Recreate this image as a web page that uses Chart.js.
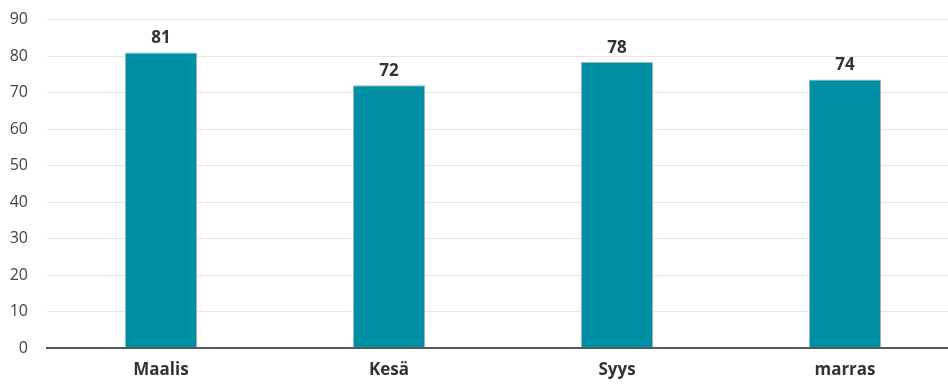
<!DOCTYPE html>
<html>
<head>
<meta charset="utf-8">
<script src="https://cdn.jsdelivr.net/npm/chart.js@4"></script>
<style>
  html, body { margin: 0; padding: 0; background: #fff; overflow: hidden; }
  #outer { width: 948px; height: 385px; overflow: hidden; position: relative; }
  #wrap { position: absolute; left: 0; top: -9px; width: 959px; height: 394px; }
</style>
</head>
<body>
<div id="outer"><div id="wrap"><canvas id="chart"></canvas></div></div>
<script>
// Chart data
const categories = ['Maalis', 'Kesä', 'Syys', 'marras'];
const values = [81, 72, 78.4, 73.6];
const yTicks = [0, 10, 20, 30, 40, 50, 60, 70, 80, 90];

const fontFamily = '"Open Sans", "Noto Sans", sans-serif';

// Draw value labels above bars
const valueLabels = {
    id: 'valueLabels',
    afterDatasetsDraw(chart) {
        const ctx = chart.ctx;
        const meta = chart.getDatasetMeta(0);
        ctx.save();
        ctx.font = 'bold 17px ' + fontFamily;
        ctx.fillStyle = '#333';
        ctx.textAlign = 'center';
        ctx.textBaseline = 'alphabetic';
        meta.data.forEach((bar, i) => {
            ctx.fillText(Math.round(values[i]), bar.x, bar.y - 9);
        });
        ctx.restore();
    }
};

const ctx = document.getElementById('chart').getContext('2d');
new Chart(ctx, {
    type: 'bar',
    data: {
        labels: categories,
        datasets: [{
            data: values,
            backgroundColor: '#0090a6',
            borderColor: '#9fb8bd',
            borderWidth: 1,
            barPercentage: 0.632,
            categoryPercentage: 0.5
        }]
    },
    options: {
        responsive: true,
        maintainAspectRatio: false,
        animation: false,
        layout: { padding: { top: 2, right: 0, left: 0, bottom: 0 } },
        plugins: {
            legend: { display: false },
            tooltip: { enabled: false }
        },
        scales: {
            x: {
                afterFit(axis) { axis.height = 37; },
                grid: { display: false, drawTicks: false },
                border: { color: '#555', width: 2 },
                ticks: {
                    color: '#333',
                    padding: 12,
                    font: { family: fontFamily, size: 17, weight: 'bold' }
                }
            },
            y: {
                min: 0,
                max: 90,
                afterBuildTicks(axis) {
                    axis.ticks = yTicks.map(v => ({ value: v }));
                },
                afterFit(axis) { axis.width = 47; },
                grid: { color: '#e6e6e6', drawTicks: false },
                border: { display: false },
                ticks: {
                    color: '#444',
                    padding: 19,
                    font: { family: fontFamily, size: 16 }
                }
            }
        }
    },
    plugins: [valueLabels]
});
</script>
</body>
</html>
